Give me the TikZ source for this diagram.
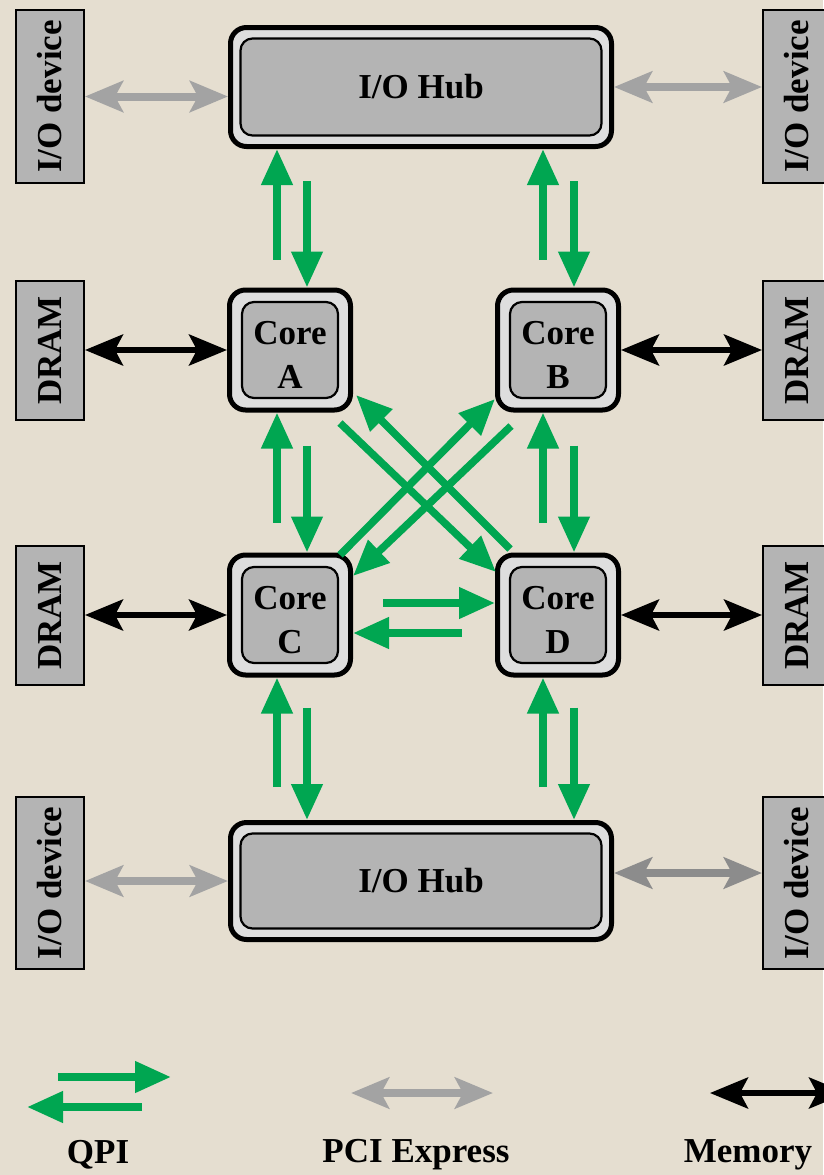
\documentclass[tikz,border=0pt]{standalone}
\usepackage{fontspec}
\setmainfont{Liberation Serif}
\usetikzlibrary{arrows.meta,calc}
\definecolor{bg}{RGB}{229,222,208}
\definecolor{qgreen}{RGB}{0,166,81}
\definecolor{pgray}{RGB}{163,163,163}
\definecolor{pgrayd}{RGB}{140,140,140}
\definecolor{boxgray}{RGB}{180,180,180}
\definecolor{rimgray}{RGB}{222,222,222}
\begin{document}
\begin{tikzpicture}[x=1pt,y=-1pt,
  bigfont/.style={font=\fontsize{35}{44}\selectfont\bfseries},
  outer/.style={draw=black, line width=5pt, fill=rimgray, rounded corners=16pt, inner sep=0pt},
  inner/.style={draw=black, line width=2.2pt, fill=boxgray, rounded corners=12pt, inner sep=0pt, align=center, bigfont},
  dev/.style={draw=black, line width=2pt, fill=boxgray, inner sep=0pt, minimum width=68pt},
  qpi/.style={draw=qgreen, line width=7.5pt, -{Triangle[length=36pt,width=30pt]}},
  pcie/.style={draw=pgray, line width=8pt, {Stealth[length=38pt,width=31pt,inset=8pt]}-{Stealth[length=38pt,width=31pt,inset=8pt]}},
  pcied/.style={pcie, draw=pgrayd},
  mem/.style={draw=black, line width=5.5pt, {Stealth[length=38pt,width=31pt,inset=8pt]}-{Stealth[length=38pt,width=31pt,inset=8pt]}},
  lbl/.style={bigfont, inner sep=0pt}
]
\fill[bg] (0,0) rectangle (823,1175);
\useasboundingbox (0,0) rectangle (823,1175);

% side devices
\node[dev, minimum height=173pt, label={[rotate=90,bigfont]center:I/O device}] (devTL) at (50,96.5) {};
\node[dev, minimum height=139pt, label={[rotate=90,bigfont]center:DRAM}] (dramL1) at (50,350.5) {};
\node[dev, minimum height=139pt, label={[rotate=90,bigfont]center:DRAM}] (dramL2) at (50,615.5) {};
\node[dev, minimum height=172pt, label={[rotate=90,bigfont]center:I/O device}] (devBL) at (50,883) {};
\node[dev, minimum height=173pt, label={[rotate=90,bigfont]center:I/O device}] (devTR) at (797,96.5) {};
\node[dev, minimum height=139pt, label={[rotate=90,bigfont]center:DRAM}] (dramR1) at (797,350.5) {};
\node[dev, minimum height=139pt, label={[rotate=90,bigfont]center:DRAM}] (dramR2) at (797,615.5) {};
\node[dev, minimum height=172pt, label={[rotate=90,bigfont]center:I/O device}] (devBR) at (797,883) {};

% hubs
\node[outer, minimum width=381pt, minimum height=119pt] (hubT) at (421,87) {};
\node[inner, minimum width=361pt, minimum height=97pt] (hubTi) at (421,87) {I/O Hub};
\node[outer, minimum width=381pt, minimum height=117pt] (hubB) at (421,881) {};
\node[inner, minimum width=361pt, minimum height=95pt] (hubBi) at (421,881) {I/O Hub};

% cores
\foreach \n/\l/\x/\y in {coreA/A/290/350, coreB/B/558/350, coreC/C/290/615, coreD/D/558/615}{
  \node[outer, minimum width=121pt, minimum height=120pt] (\n) at (\x,\y) {};
  \node[inner, minimum width=96pt, minimum height=96pt,
        label={[bigfont,align=center,yshift=-5pt]center:Core\\\l}] (\n i) at (\x,\y) {};
}

% PCIe links
\draw[pcie] (devTL.east) -- (devTL.east -| hubT.west);
\draw[pcie] (hubT.east) -- (hubT.east -| devTR.west);
\draw[pcie] (devBL.east |- hubB.west) -- (hubB.west);
\draw[pcied] ($(hubB.east)+(0,-8)$) -- ($(devBR.west)+(0,-10)$);

% memory links
\draw[mem] (dramL1.east |- coreA.west) -- (coreA.west);
\draw[mem] (coreB.east) -- (coreB.east -| dramR1.west);
\draw[mem] (dramL2.east |- coreC.west) -- (coreC.west);
\draw[mem] (coreD.east) -- (coreD.east -| dramR2.west);

% QPI hub top - cores
\draw[qpi] ($(coreA.north)+(-13,-28)$) -- ($(hubT.south)+(-144,0)$);
\draw[qpi] ($(hubT.south)+(-114,32)$) -- ($(coreA.north)+(17,0)$);
\draw[qpi] ($(coreB.north)+(-15,-28)$) -- ($(hubT.south)+(122,0)$);
\draw[qpi] ($(hubT.south)+(153,32)$) -- ($(coreB.north)+(16,0)$);

% QPI A-C, B-D
\draw[qpi] ($(coreC.north)+(-13,-30)$) -- ($(coreA.south)+(-13,0)$);
\draw[qpi] ($(coreA.south)+(17,33)$) -- ($(coreC.north)+(17,0)$);
\draw[qpi] ($(coreD.north)+(-15,-30)$) -- ($(coreB.south)+(-15,0)$);
\draw[qpi] ($(coreB.south)+(16,33)$) -- ($(coreD.north)+(16,0)$);

% QPI cores - hub bottom
\draw[qpi] ($(hubB.north)+(-144,-33)$) -- ($(coreC.south)+(-13,0)$);
\draw[qpi] ($(coreC.south)+(17,30)$) -- ($(hubB.north)+(-114,0)$);
\draw[qpi] ($(hubB.north)+(122,-33)$) -- ($(coreD.south)+(-15,0)$);
\draw[qpi] ($(coreD.south)+(16,30)$) -- ($(hubB.north)+(153,0)$);

% QPI C-D
\draw[qpi] ($(coreC.east)+(30,-12)$) -- ($(coreD.west)+(0,-12)$);
\draw[qpi] ($(coreD.west)+(-33,18)$) -- ($(coreC.east)+(0,18)$);

% QPI diagonals
\draw[qpi] ($(coreA)+(50,73)$) -- ($(coreD)+(-62,-43)$);
\draw[qpi] ($(coreD)+(-48,-66)$) -- ($(coreA)+(66,45)$);
\draw[qpi] ($(coreC)+(50,-60)$) -- ($(coreB)+(-63,49)$);
\draw[qpi] ($(coreB)+(-47,76)$) -- ($(coreC)+(63,-39)$);

% legend
\coordinate (q1s) at (58,1077);
\coordinate (q1e) at (171,1077);
\coordinate (q2s) at (142,1107);
\coordinate (q2e) at (27,1107);
\coordinate (ps) at (351,1093);
\coordinate (pe) at (493,1093);
\coordinate (ms) at (710,1093);
\coordinate (me) at (847,1093);
\draw[qpi] (q1s) -- (q1e);
\draw[qpi] (q2s) -- (q2e);
\draw[pcie] (ps) -- (pe);
\draw[mem] (ms) -- (me);
\node[lbl] (lq) at (98,1155) {QPI};
\node[lbl] (lp) at (416,1155) {PCI Express};
\node[lbl] (lm) at (748,1155) {Memory};
\end{tikzpicture}
\end{document}
